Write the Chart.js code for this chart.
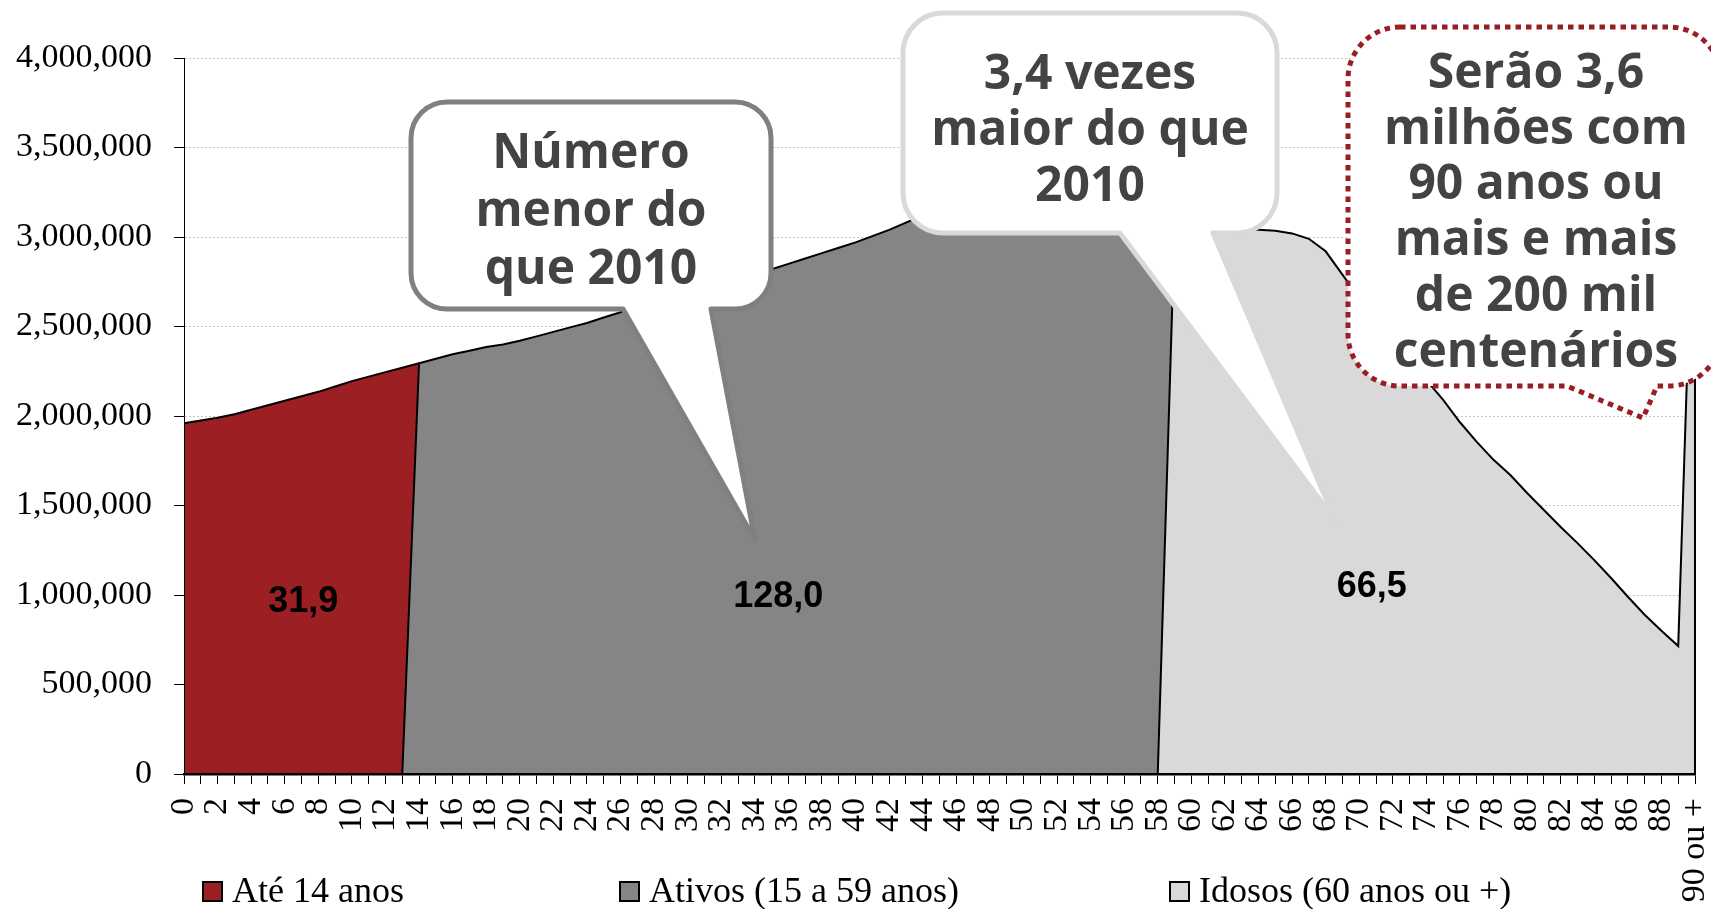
<!DOCTYPE html>
<html>
<head>
<meta charset="utf-8">
<script src="https://cdn.jsdelivr.net/npm/chart.js@4.4.1/dist/chart.umd.min.js"></script>
<style>
html,body{margin:0;padding:0;background:#fff;overflow:hidden}
canvas{display:block}
</style>
</head>
<body>
<canvas id="c" width="1711" height="909"></canvas>
<script>
// ---------- DATA ----------
const categories = [
  '0','1','2','3','4','5','6','7','8','9',
  '10','11','12','13','14','15','16','17','18','19',
  '20','21','22','23','24','25','26','27','28','29',
  '30','31','32','33','34','35','36','37','38','39',
  '40','41','42','43','44','45','46','47','48','49',
  '50','51','52','53','54','55','56','57','58','59',
  '60','61','62','63','64','65','66','67','68','69',
  '70','71','72','73','74','75','76','77','78','79',
  '80','81','82','83','84','85','86','87','88','89',
  '90 ou +'
];

const seriesNames = ['Até 14 anos', 'Ativos (15 a 59 anos)', 'Idosos (60 anos ou +)'];

const ate14 = [
  1960000,1975000,1990000,2010000,2035000,2060000,2085000,2110000,2135000,2165000,
  2195000,2220000,2245000,2270000,2295000,null,null,null,null,null,
  null,null,null,null,null,null,null,null,null,null,
  null,null,null,null,null,null,null,null,null,null,
  null,null,null,null,null,null,null,null,null,null,
  null,null,null,null,null,null,null,null,null,null,
  null,null,null,null,null,null,null,null,null,null,
  null,null,null,null,null,null,null,null,null,null,
  null,null,null,null,null,null,null,null,null,null,
  null
];

const ativos = [
  null,null,null,null,null,null,null,null,null,null,
  null,null,null,0,2295000,2320000,2345000,2365000,2385000,2400000,
  2420000,2445000,2470000,2495000,2520000,2550000,2580000,2610000,2640000,2665000,
  2690000,2715000,2740000,2765000,2790000,2820000,2850000,2880000,2910000,2940000,
  2970000,3005000,3040000,3080000,3120000,3160000,3190000,3220000,3240000,3250000,
  3250000,3240000,3220000,3190000,3160000,3130000,3100000,3070000,3050000,3030000,
  null,null,null,null,null,null,null,null,null,null,
  null,null,null,null,null,null,null,null,null,null,
  null,null,null,null,null,null,null,null,null,null,
  null
];

const idosos = [
  null,null,null,null,null,null,null,null,null,null,
  null,null,null,null,null,null,null,null,null,null,
  null,null,null,null,null,null,null,null,null,null,
  null,null,null,null,null,null,null,null,null,null,
  null,null,null,null,null,null,null,null,null,null,
  null,null,null,null,null,null,null,null,0,3030000,
  3040000,3040000,3040000,3040000,3040000,3035000,3020000,2990000,2920000,2790000,
  2660000,2550000,2440000,2320000,2200000,2090000,1965000,1855000,1755000,1670000,
  1570000,1475000,1380000,1290000,1195000,1095000,990000,890000,800000,715000,
  3600000
];

const seriesColors = ['#9c1f24', '#858585', '#d9d9d9'];

const yMin = 0, yMax = 4000000, yStep = 500000;

// totals (millions) written inside each area, and where (category index, value)
const areaTotals = ['31,9', '128,0', '66,5'];
const areaTotalIndex = [7.1, 35.4, 70.75];
const areaTotalValue = [960000, 990000, 1045000];

const calloutTexts = [
  ['Número', 'menor do', 'que 2010'],
  ['3,4 vezes', 'maior do que', '2010'],
  ['Serão 3,6', 'milhões com', '90 anos ou', 'mais e mais', 'de 200 mil', 'centenários']
];

// ---------- LAYOUT / STYLE ----------
const calloutBoxes = [
  {x: 411, y: 102, w: 360, h: 207, r: 36, tail: [623, 711, 755, 540],
   stroke: '#808080', dash: [], cx: 591, base: [168, 226, 284]},
  {x: 903, y: 13, w: 374, h: 220, r: 40, tail: [1120, 1213, 1335, 520],
   stroke: '#d9d9d9', dash: [], cx: 1090, base: [89, 145, 201]},
  {x: 1348, y: 27, w: 373, h: 359, r: 52, tail: [1567, 1657, 1643, 418],
   stroke: '#9b1d24', dash: [5.5, 5], cx: 1536, base: [88, 144, 199, 255, 311, 367]}
];
const legendBoxX = [203, 620, 1170];
const legendTextX = [232, 649, 1199];

function calloutPath(ctx, c) {
  const {x, y, w, h, r, tail} = c;
  const R = x + w, B = y + h;
  ctx.beginPath();
  ctx.moveTo(x + r, y);
  ctx.lineTo(R - r, y);
  ctx.arcTo(R, y, R, y + r, r);
  ctx.lineTo(R, B - r);
  ctx.arcTo(R, B, R - r, B, r);
  ctx.lineTo(tail[1], B);
  ctx.lineTo(tail[2], tail[3]);
  ctx.lineTo(tail[0], B);
  ctx.lineTo(x + r, B);
  ctx.arcTo(x, B, x, B - r, r);
  ctx.lineTo(x, y + r);
  ctx.arcTo(x, y, x + r, y, r);
  ctx.closePath();
}

const overlay = {
  id: 'overlay',
  afterDatasetsDraw(chart) {
    const {ctx, scales: {x, y}} = chart;
    const last = idosos.length - 1;
    ctx.save();
    ctx.strokeStyle = '#000';
    ctx.lineWidth = 2;
    ctx.beginPath();
    ctx.moveTo(x.getPixelForValue(last), y.getPixelForValue(0));
    ctx.lineTo(x.getPixelForValue(last), y.getPixelForValue(idosos[last]));
    ctx.stroke();

    ctx.font = 'bold 36px "Liberation Sans", Arial, sans-serif';
    ctx.fillStyle = '#000';
    ctx.textAlign = 'center';
    ctx.textBaseline = 'middle';
    areaTotals.forEach((t, i) => {
      ctx.fillText(t, x.getPixelForValue(areaTotalIndex[i]), y.getPixelForValue(areaTotalValue[i]));
    });
    ctx.restore();
  },
  afterDraw(chart) {
    const ctx = chart.ctx;
    ctx.save();
    // legend
    ctx.font = '36px "Liberation Serif", serif';
    ctx.textAlign = 'left';
    ctx.textBaseline = 'alphabetic';
    chart.data.datasets.forEach((ds, i) => {
      ctx.fillStyle = ds.backgroundColor;
      ctx.fillRect(legendBoxX[i], 882, 19, 19);
      ctx.strokeStyle = '#000';
      ctx.lineWidth = 2;
      ctx.strokeRect(legendBoxX[i], 882, 19, 19);
      ctx.fillStyle = '#000';
      ctx.fillText(ds.label, legendTextX[i], 902);
    });

    // callouts
    calloutBoxes.forEach((c, i) => {
      calloutPath(ctx, c);
      ctx.fillStyle = '#fff';
      ctx.fill();
      ctx.lineWidth = 5;
      ctx.strokeStyle = c.stroke;
      ctx.setLineDash(c.dash);
      ctx.lineCap = 'butt';
      ctx.lineJoin = 'round';
      ctx.stroke();
      ctx.setLineDash([]);
      ctx.fillStyle = '#434343';
      ctx.font = 'bold 48px "Open Sans", "DejaVu Sans", sans-serif';
      ctx.textAlign = 'center';
      ctx.textBaseline = 'alphabetic';
      calloutTexts[i].forEach((line, k) => ctx.fillText(line, c.cx, c.base[k]));
    });
    ctx.restore();
  }
};

Chart.defaults.font.family = '"Liberation Serif", serif';
Chart.defaults.color = '#000';

new Chart(document.getElementById('c'), {
  type: 'line',
  data: {
    labels: categories,
    datasets: [
      {label: seriesNames[0], data: ate14, backgroundColor: seriesColors[0], order: 3},
      {label: seriesNames[1], data: ativos, backgroundColor: seriesColors[1], order: 2},
      {label: seriesNames[2], data: idosos, backgroundColor: seriesColors[2], order: 1}
    ].map(d => Object.assign(d, {
      fill: 'origin', borderColor: '#000', borderWidth: 2,
      pointRadius: 0, pointHoverRadius: 0, tension: 0, spanGaps: false
    }))
  },
  options: {
    responsive: false,
    animation: false,
    devicePixelRatio: 1,
    events: [],
    layout: {padding: {left: 0, right: 16, top: 58, bottom: 0}},
    plugins: {legend: {display: false}, tooltip: {enabled: false}},
    scales: {
      x: {
        type: 'category',
        offset: false,
        grid: {display: true, drawOnChartArea: false, drawTicks: true, tickLength: 10, tickColor: '#000', lineWidth: 1},
        border: {display: true, color: '#000', width: 2.5, z: 1},
        ticks: {
          autoSkip: false, maxRotation: 90, minRotation: 90, padding: 14,
          font: {size: 34, family: '"Liberation Serif", serif'}, color: '#000',
          callback: function (val, index) { return index % 2 === 0 ? this.getLabelForValue(val) : ''; }
        },
        afterFit: s => { s.height = 135; s.paddingLeft = 0; s.paddingRight = 0; }
      },
      y: {
        min: yMin, max: yMax,
        grid: {color: '#c4c4c4', lineWidth: 1, tickLength: 10, tickColor: '#000', drawTicks: true},
        border: {display: true, color: '#000', width: 1, dash: [2, 2], z: 1},
        ticks: {
          stepSize: yStep, padding: 22,
          font: {size: 34, family: '"Liberation Serif", serif'}, color: '#000',
          callback: v => v.toLocaleString('en-US')
        },
        afterFit: s => { s.width = 184; s.paddingTop = 0; s.paddingBottom = 0; }
      }
    }
  },
  plugins: [overlay]
});
</script>
</body>
</html>
